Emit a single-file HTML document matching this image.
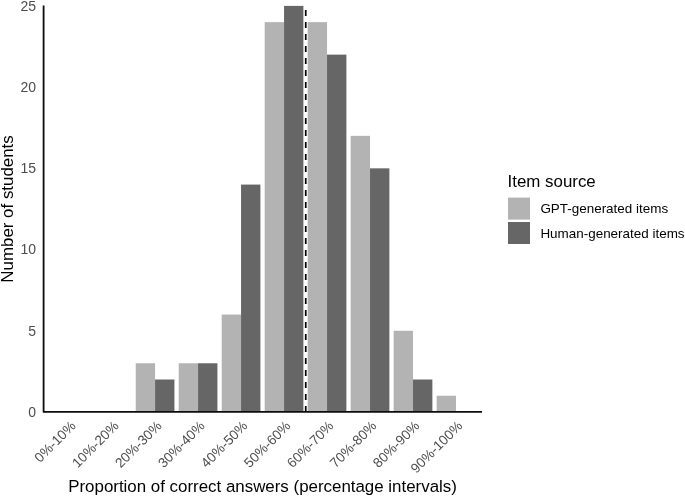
<!DOCTYPE html>
<html><head><meta charset="utf-8"><title>Chart</title>
<style>
html,body{margin:0;padding:0;background:#fff;}
svg{display:block;font-family:"Liberation Sans",Arial,sans-serif;}
.tk{font-size:13.65px;fill:#4d4d4d;}
.ti{font-size:16.9px;fill:#000;}
.lg{font-size:13.45px;fill:#000;}
</style></head><body>
<svg width="685" height="496" viewBox="0 0 685 496">
<rect width="685" height="496" fill="#fff"/>

<rect x="135.73" y="363.27" width="19.35" height="48.73" fill="#b3b3b3"/>
<rect x="155.07" y="379.51" width="19.35" height="32.49" fill="#666666"/>
<rect x="178.72" y="363.27" width="19.35" height="48.73" fill="#b3b3b3"/>
<rect x="198.06" y="363.27" width="19.35" height="48.73" fill="#666666"/>
<rect x="221.71" y="314.54" width="19.35" height="97.46" fill="#b3b3b3"/>
<rect x="241.05" y="184.58" width="19.35" height="227.42" fill="#666666"/>
<rect x="264.70" y="22.14" width="19.35" height="389.86" fill="#b3b3b3"/>
<rect x="284.05" y="5.90" width="19.35" height="406.10" fill="#666666"/>
<rect x="307.69" y="22.14" width="19.35" height="389.86" fill="#b3b3b3"/>
<rect x="327.04" y="54.63" width="19.35" height="357.37" fill="#666666"/>
<rect x="350.68" y="135.85" width="19.35" height="276.15" fill="#b3b3b3"/>
<rect x="370.03" y="168.34" width="19.35" height="243.66" fill="#666666"/>
<rect x="393.67" y="330.78" width="19.35" height="81.22" fill="#b3b3b3"/>
<rect x="413.02" y="379.51" width="19.35" height="32.49" fill="#666666"/>
<rect x="436.66" y="395.76" width="19.35" height="16.24" fill="#b3b3b3"/>
<line x1="305.74" y1="411.90" x2="305.74" y2="5.50" stroke="#000" stroke-width="1.7" stroke-dasharray="6 6"/>
<polyline points="43.6,5.5 43.6,411.9 482.0,411.9" fill="none" stroke="#0d0d0d" stroke-width="1.8" stroke-linejoin="round"/>
<text class="tk" style="font-size:14px" x="36" y="416.90" text-anchor="end">0</text>
<text class="tk" style="font-size:14px" x="36" y="335.68" text-anchor="end">5</text>
<text class="tk" style="font-size:14px" x="36" y="254.46" text-anchor="end">10</text>
<text class="tk" style="font-size:14px" x="36" y="173.24" text-anchor="end">15</text>
<text class="tk" style="font-size:14px" x="36" y="92.02" text-anchor="end">20</text>
<text class="tk" style="font-size:14px" x="36" y="10.80" text-anchor="end">25</text>
<text class="tk" transform="translate(76.49,426.70) rotate(-45)" text-anchor="end">0%-10%</text>
<text class="tk" transform="translate(119.48,426.70) rotate(-45)" text-anchor="end">10%-20%</text>
<text class="tk" transform="translate(162.47,426.70) rotate(-45)" text-anchor="end">20%-30%</text>
<text class="tk" transform="translate(205.46,426.70) rotate(-45)" text-anchor="end">30%-40%</text>
<text class="tk" transform="translate(248.45,426.70) rotate(-45)" text-anchor="end">40%-50%</text>
<text class="tk" transform="translate(291.45,426.70) rotate(-45)" text-anchor="end">50%-60%</text>
<text class="tk" transform="translate(334.44,426.70) rotate(-45)" text-anchor="end">60%-70%</text>
<text class="tk" transform="translate(377.43,426.70) rotate(-45)" text-anchor="end">70%-80%</text>
<text class="tk" transform="translate(420.42,426.70) rotate(-45)" text-anchor="end">80%-90%</text>
<text class="tk" transform="translate(463.41,426.70) rotate(-45)" text-anchor="end">90%-100%</text>
<text class="ti" x="262.55" y="492" text-anchor="middle">Proportion of correct answers (percentage intervals)</text>
<text class="ti" transform="translate(13.3,208.95) rotate(-90)" text-anchor="middle">Number of students</text>
<text class="ti" x="507.5" y="186.6">Item source</text>
<rect x="508" y="197.6" width="22" height="22" fill="#b3b3b3"/>
<rect x="508" y="222" width="22" height="22" fill="#666666"/>
<text class="lg" x="540.4" y="212.9">GPT-generated items</text>
<text class="lg" x="540.4" y="237.7">Human-generated items</text>
</svg></body></html>
